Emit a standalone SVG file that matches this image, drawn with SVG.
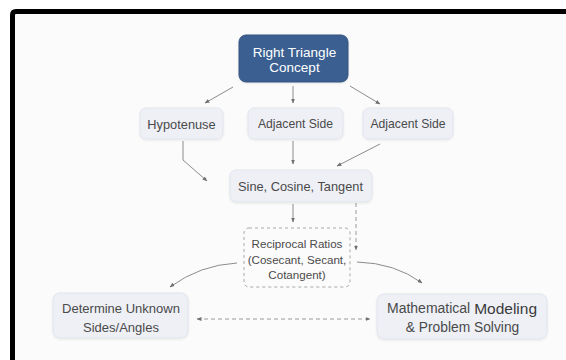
<svg xmlns="http://www.w3.org/2000/svg" width="566" height="360" viewBox="0 0 566 360">
<defs>
<style>
.bg{fill:#fbfbfc}
.frame{fill:none;stroke:#000;stroke-width:5}
.node{fill:#eef0f6;stroke:#e2e4ec;stroke-width:1}
.root{fill:#3b5e91;stroke:#34547f;stroke-width:1}
.dash{fill:none;stroke:#a8a8a8;stroke-width:1;stroke-dasharray:3,3}
.t{font-family:"Liberation Sans",Arial,sans-serif;fill:#4a4a4a;text-anchor:middle;dominant-baseline:central}
.tw{fill:#ffffff}
.c{fill:none;stroke:#8c8c8c;stroke-width:1}
.cd{fill:none;stroke:#9a9a9a;stroke-width:1;stroke-dasharray:4,3}
</style>
<marker id="ah" viewBox="0 0 10 10" refX="9" refY="5" markerWidth="5" markerHeight="5" markerUnits="userSpaceOnUse" orient="auto-start-reverse">
<path d="M0,1 L10,5 L0,9 z" fill="#707070"/>
</marker>
<filter id="sh" x="-10%" y="-20%" width="120%" height="150%">
<feDropShadow dx="0" dy="1" stdDeviation="1.2" flood-color="#000" flood-opacity="0.08"/>
</filter>
</defs>
<rect class="bg" x="0" y="0" width="566" height="360"/>
<rect x="0" y="0" width="566" height="9" fill="#ffffff"/>
<rect x="0" y="0" width="10" height="360" fill="#ffffff"/>
<path class="frame" d="M12.5,360 L12.5,15 Q12.5,11.5 16,11.5 L566,11.5"/>

<g id="connectors">
<line class="c" x1="233" y1="87" x2="205" y2="103" marker-end="url(#ah)"/>
<line class="c" x1="293" y1="86" x2="293" y2="103" marker-end="url(#ah)"/>
<line class="c" x1="350" y1="86" x2="380" y2="104" marker-end="url(#ah)"/>
<path class="c" d="M183,141 L183,160 L207,181" marker-end="url(#ah)"/>
<line class="c" x1="293" y1="141" x2="293" y2="164" marker-end="url(#ah)"/>
<line class="c" x1="380" y1="144" x2="337" y2="166" marker-end="url(#ah)"/>
<line class="c" x1="293" y1="204" x2="293" y2="222" marker-end="url(#ah)"/>
<line class="cd" x1="356" y1="203" x2="356" y2="250" marker-end="url(#ah)"/>
<path class="c" d="M237,263 Q200,265 170,287" marker-end="url(#ah)"/>
<path class="c" d="M357,262 Q395,263 422,283" marker-end="url(#ah)"/>
<line class="cd" x1="197" y1="319" x2="370" y2="319" marker-start="url(#ah)" marker-end="url(#ah)"/>
</g>

<g id="root">
<rect class="root" x="239" y="35" width="109" height="47" rx="7" filter="url(#sh)"/>
<text class="t tw" x="294.5" y="52" font-size="13.5">Right Triangle</text>
<text class="t tw" x="294.5" y="67" font-size="13.5">Concept</text>
</g>

<g id="hypotenuse">
<rect class="node" x="140" y="108" width="83" height="31" rx="6" filter="url(#sh)"/>
<text class="t" x="181.5" y="124" font-size="12.8">Hypotenuse</text>
</g>

<g id="adjacent1">
<rect class="node" x="248" y="108" width="95" height="31" rx="6" filter="url(#sh)"/>
<text class="t" x="295.5" y="124" font-size="12.2">Adjacent Side</text>
</g>

<g id="adjacent2">
<rect class="node" x="363" y="108" width="90" height="31" rx="6" filter="url(#sh)"/>
<text class="t" x="408" y="124" font-size="12.2">Adjacent Side</text>
</g>

<g id="sct">
<rect class="node" x="230" y="170" width="142" height="32" rx="6" filter="url(#sh)"/>
<text class="t" x="300.5" y="186" font-size="12.8">Sine, Cosine, Tangent</text>
</g>

<g id="reciprocal">
<rect class="dash" x="244" y="228" width="106" height="59" rx="5"/>
<text class="t" x="297" y="243.5" font-size="11.6">Reciprocal Ratios</text>
<text class="t" x="297" y="259" font-size="11.6">(Cosecant, Secant,</text>
<text class="t" x="297" y="274.5" font-size="11.6">Cotangent)</text>
</g>

<g id="determine">
<rect class="node" x="53" y="293" width="135" height="45" rx="7" filter="url(#sh)"/>
<text class="t" x="121" y="308" font-size="13">Determine Unknown</text>
<text class="t" x="121" y="327" font-size="13">Sides/Angles</text>
</g>

<g id="modeling">
<rect class="node" x="377" y="294" width="170" height="45" rx="7" filter="url(#sh)"/>
<text class="t" x="462" y="308" font-size="14">Mathematical <tspan font-size="15.5" fill="#3a3a3a">Modeling</tspan></text>
<text class="t" x="462.5" y="327" font-size="13.8">&amp; Problem Solving</text>
</g>
</svg>
